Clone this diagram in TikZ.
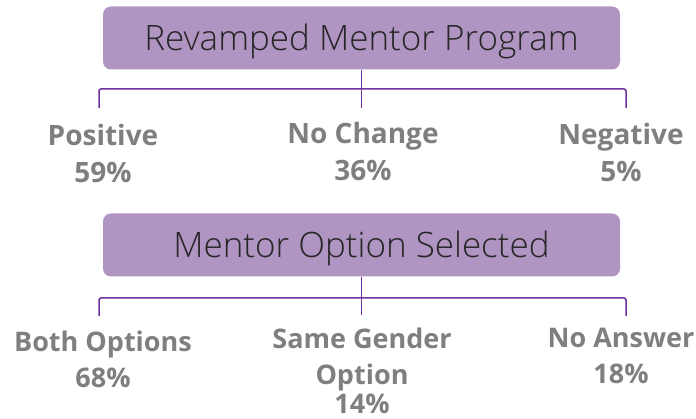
\documentclass[tikz,border=0pt]{standalone}
\usepackage{fontspec}
\setmainfont{Open Sans}
\newfontfamily\titlefont{Open Sans Light}
\usetikzlibrary{positioning}
\definecolor{boxfill}{HTML}{B094C2}
\definecolor{linkcol}{HTML}{7030A0}
\definecolor{labelcol}{HTML}{7F7F7F}
\definecolor{titlecol}{HTML}{262626}
\tikzset{
  heading/.style={rectangle, rounded corners=8pt, fill=boxfill, minimum width=517pt,
    minimum height=63pt, inner sep=0pt, text=titlecol, text height=25pt, text depth=0pt,
    font=\titlefont\fontsize{35}{40}\selectfont},
  result/.style={anchor=north, align=center, inner sep=0pt, text=labelcol,
    font=\bfseries\fontsize{28}{37}\selectfont},
  lower/.style={result, font=\bfseries\fontsize{27}{36}\selectfont},
  link/.style={draw=linkcol, line width=1.5pt, rounded corners=2pt},
}
\begin{document}
\begin{tikzpicture}[x=1pt, y=-1pt]
  \useasboundingbox (0,0) rectangle (696,419);
  % first question
  \node[heading] (box1) at (361.5,38) {Revamped Mentor Program};
  \coordinate (b1l) at (99,108);
  \coordinate (b1m) at (361.5,108);
  \coordinate (b1r) at (626,108);
  \draw[link] (b1l) |- (361.5,89) -| (b1r);
  \draw[link] (box1.south) -- (b1m);
  \node[result] (pos) at (103,124) {Positive\\59\%};
  \node[result] (chg) at (363,122) {No Change\\36\%};
  \node[result] (neg) at (621,123) {Negative\\5\%};
  % second question
  \node[heading] (box2) at (361.5,245) {Mentor Option Selected};
  \coordinate (b2l) at (99,316);
  \coordinate (b2m) at (361.5,315);
  \coordinate (b2r) at (626,316);
  \draw[link] (b2l) |- (361.5,298) -| (b2r);
  \draw[link] (box2.south) -- (b2m);
  \node[lower] (both) at (103,331) {Both Options\\68\%};
  \node[lower] (same) at (362,328) {Same Gender\\Option\\[-7pt]14\%};
  \node[lower] (noans) at (621,328) {No Answer\\18\%};
\end{tikzpicture}
\end{document}
